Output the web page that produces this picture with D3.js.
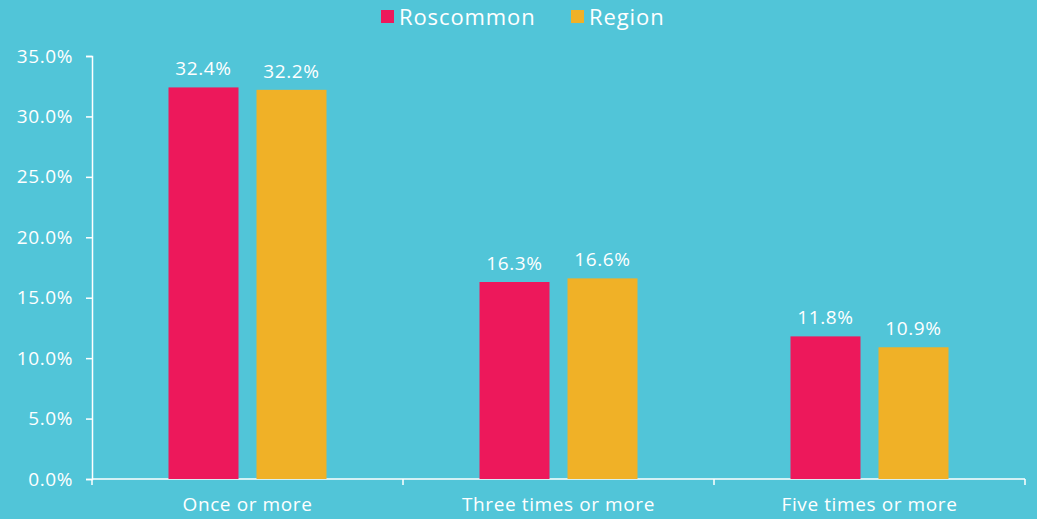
<!DOCTYPE html>
<html>
<head>
<meta charset="utf-8">
<script src="https://cdn.jsdelivr.net/npm/d3@7"></script>
<style>
  html, body { margin: 0; padding: 0; background: #51C5D8; }
  svg { display: block; }
  text { font-family: "Open Sans", sans-serif; fill: #fff; letter-spacing: 0.6px; }
</style>
</head>
<body>
<svg id="chart" width="1037" height="519"></svg>
<script>
// Drinking frequency: share of respondents, Roscommon vs. region
const categories = ["Once or more", "Three times or more", "Five times or more"];
const seriesNames = ["Roscommon", "Region"];
const roscommon = [32.4, 16.3, 11.8];
const region = [32.2, 16.6, 10.9];
const yTicks = [0, 5, 10, 15, 20, 25, 30, 35];
const colors = ["#ED185B", "#F0B127"];

const svg = d3.select("#chart");
const margin = { top: 56, right: 12, bottom: 40, left: 92 };
const W = 1037, H = 519;

const x = d3.scaleBand().domain(categories).range([margin.left, W - margin.right]).padding(0);
// two bars per group, centred in the band
const groupWidth = 158;
const inner = d3.scaleBand().domain(seriesNames)
  .range([(x.bandwidth() - groupWidth) / 2, (x.bandwidth() + groupWidth) / 2])
  .paddingInner(18 / 88).paddingOuter(0);
const y = d3.scaleLinear().domain([0, 35]).range([H - margin.bottom, margin.top]);

const fmt = d => d.toFixed(1) + "%";

// y axis
const yAxis = svg.append("g")
  .attr("transform", `translate(${margin.left},0)`)
  .call(d3.axisLeft(y).tickValues(yTicks).tickFormat(fmt).tickSize(6).tickPadding(13));
yAxis.selectAll("path, line").attr("stroke", "#fff").attr("stroke-width", 1.5);
yAxis.selectAll("text").style("font-size", "19px").attr("fill", "#fff");

// x axis with ticks at category boundaries
const xAxisG = svg.append("g").attr("transform", `translate(0,${y(0)})`);
xAxisG.append("line")
  .attr("x1", margin.left).attr("x2", W - margin.right)
  .attr("stroke", "#fff").attr("stroke-width", 1.5);
const bounds = categories.map(c => x(c)).concat([x(categories[categories.length - 1]) + x.bandwidth()]);
xAxisG.selectAll("line.tick").data(bounds).enter().append("line")
  .attr("class", "tick")
  .attr("x1", d => d).attr("x2", d => d).attr("y1", 0).attr("y2", 6)
  .attr("stroke", "#fff").attr("stroke-width", 1.5);
xAxisG.selectAll("text.cat").data(categories).enter().append("text")
  .attr("class", "cat")
  .attr("x", d => x(d) + x.bandwidth() / 2)
  .attr("y", 32)
  .attr("text-anchor", "middle")
  .style("font-size", "19px")
  .text(d => d);

// bars
const rows = categories.map((c, i) => ({ cat: c, values: [roscommon[i], region[i]] }));
const groups = svg.selectAll("g.grp").data(rows).enter().append("g")
  .attr("class", "grp")
  .attr("transform", d => `translate(${x(d.cat)},0)`);

groups.selectAll("rect").data(d => d.values.map((v, j) => ({ s: seriesNames[j], v, j })))
  .enter().append("rect")
  .attr("x", d => inner(d.s))
  .attr("width", inner.bandwidth())
  .attr("y", d => y(d.v))
  .attr("height", d => y(0) - y(d.v))
  .attr("fill", d => colors[d.j]);

groups.selectAll("text.val").data(d => d.values.map((v, j) => ({ s: seriesNames[j], v, j })))
  .enter().append("text")
  .attr("class", "val")
  .attr("x", d => inner(d.s) + inner.bandwidth() / 2)
  .attr("y", d => y(d.v) - 12)
  .attr("text-anchor", "middle")
  .style("font-size", "19px")
  .text(d => fmt(d.v));

// legend
const legend = svg.append("g");
const legendItems = [{ name: seriesNames[0], x: 381 }, { name: seriesNames[1], x: 571 }];
legendItems.forEach((it, i) => {
  legend.append("rect").attr("x", it.x).attr("y", 10).attr("width", 13).attr("height", 13).attr("fill", colors[i]);
  legend.append("text").attr("x", it.x + 18).attr("y", 25).style("font-size", "22px").style("letter-spacing", "0.9px").text(it.name);
});
</script>
</body>
</html>
